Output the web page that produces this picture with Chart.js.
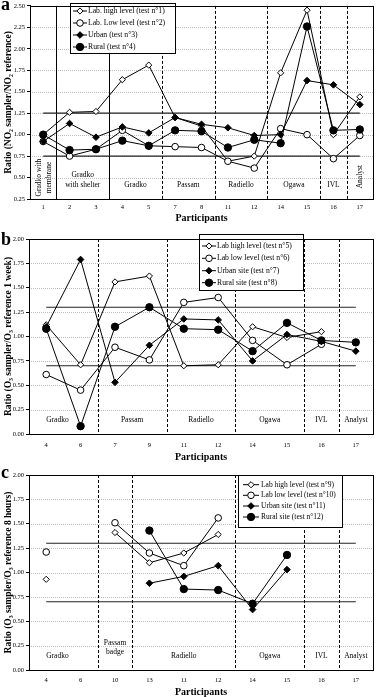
<!DOCTYPE html>
<html>
<head>
<meta charset="utf-8">
<script src="https://cdn.jsdelivr.net/npm/chart.js@4.4.0/dist/chart.umd.min.js"></script>
<style>
    html, body { margin: 0; padding: 0; background: #fff; width: 378px; height: 697px; overflow: hidden; }
    canvas { position: absolute; left: 0; }
    .letter { position: absolute; left: 1px; font: bold 18px "Liberation Serif", serif; line-height: 18px; z-index: 2; }
</style>
</head>
<body>
<canvas id="chartA" width="378" height="225" style="top:0"></canvas>
<canvas id="chartB" width="378" height="232" style="top:232px"></canvas>
<canvas id="chartC" width="378" height="233" style="top:466px"></canvas>
<div class="letter" style="top:-5px">a</div>
<div class="letter" style="top:230px">b</div>
<div class="letter" style="top:463px">c</div>
<script>
// panel a : NO2
const participantsA = ["1", "2", "3", "4", "5", "7", "8", "11", "12", "14", "15", "16", "17"];
const labHighA = [1.00, 1.26, 1.27, 1.64, 1.81, 1.20, 1.10, 0.69, 0.75, 1.72, 2.45, 1.00, 1.44];
const labLowA = [0.92, 0.75, 0.83, 1.05, 0.87, 0.86, 0.85, 0.69, 0.61, 1.07, 1.00, 0.72, 0.99];
const urbanA = [0.92, 1.13, 0.97, 1.09, 1.02, 1.20, 1.12, 1.08, 0.99, 1.00, 1.63, 1.58, 1.35];
const ruralA = [1.00, 0.82, 0.83, 0.93, 0.87, 1.05, 1.04, 0.85, 0.94, 0.90, 2.26, 1.05, 1.06];
const legendA = ["Lab. high level (test n°1)", "Lab. Low level (test n°2)", "Urban (test n°3)", "Rural (test n°4)"];
const limitsA = [1.25, 0.75];
const groupsA = [["Gradko with", "membrane"], ["Gradko", "with shelter"], ["Gradko"], ["Passam"], ["Radiello"], ["Ogawa"], ["IVL"], ["Analyst"]];

// panel b : O3, 1 week
const participantsB = ["4", "6", "7", "9", "11", "12", "14", "15", "16", "17"];
const labHighB = [1.12, 0.71, 1.56, 1.62, 0.70, 0.71, 1.10, 0.99, 1.05, null];
const labLowB = [0.61, 0.45, 0.89, 0.76, 1.35, 1.40, 0.96, 0.71, 0.92, null];
const urbanB = [1.10, 1.79, 0.53, 0.91, 1.18, 1.17, 0.75, 1.02, 0.95, 0.85];
const ruralB = [1.08, 0.08, 1.10, 1.30, 1.08, 1.07, 0.85, 1.14, 0.96, 0.94];
const legendB = ["Lab high level (test n°5)", "Lab low level (test n°6)", "Urban site (test n°7)", "Rural site (test n°8)"];
const limitsB = [1.30, 0.70];
const groupsB = [["Gradko"], ["Passam"], ["Radiello"], ["Ogawa"], ["IVL"], ["Analyst"]];

// panel c : O3, 8 hours
const participantsC = ["4", "6", "10", "13", "11", "12", "14", "15", "16", "17"];
const labHighC = [0.93, null, 1.41, 1.10, 1.20, 1.39, null, null, null, null];
const labLowC = [1.21, null, 1.51, 1.20, 1.07, 1.56, null, null, null, null];
const urbanC = [null, null, null, 0.89, 0.96, 1.07, 0.62, 1.03, null, null];
const ruralC = [null, null, null, 1.43, 0.83, 0.82, 0.68, 1.18, null, null];
const legendC = ["Lab high level (test n°9)", "Lab low level (test n°10)", "Urban site (test n°11)", "Rural site (test n°12)"];
const limitsC = [1.30, 0.70];
const groupsC = [["Gradko"], ["Passam", "badge"], ["Radiello"], ["Ogawa"], ["IVL"], ["Analyst"]];

const FONT = "\"Liberation Serif\", serif";
Chart.defaults.font.family = FONT;
Chart.defaults.color = "#000";

// marker look of the 4 series: open diamond, open circle, black diamond, black circle
const markers = [
    { style: "rectRot", radius: 3.1, fill: "#fff" },
    { style: "circle", radius: 3.3, fill: "#fff" },
    { style: "rectRot", radius: 3.3, fill: "#000" },
    { style: "circle", radius: 3.7, fill: "#000" }
];

function drawMarker(ctx, m, x, y) {
    ctx.beginPath();
    if (m.style === "circle") {
        ctx.arc(x, y, m.radius, 0, Math.PI * 2);
    } else {
        ctx.moveTo(x, y - m.radius);
        ctx.lineTo(x + m.radius, y);
        ctx.lineTo(x, y + m.radius);
        ctx.lineTo(x - m.radius, y);
        ctx.closePath();
    }
    ctx.fillStyle = m.fill;
    ctx.fill();
    ctx.strokeStyle = "#000";
    ctx.lineWidth = 1;
    ctx.stroke();
}

function decor(cfg) {
    return {
        id: "decor",
        beforeDatasetsDraw(chart) {
            const ctx = chart.ctx;
            const area = chart.chartArea;
            const xs = chart.scales.x;
            const ys = chart.scales.y;
            ctx.save();
            // dotted grid
            ctx.strokeStyle = "#bdbdbd";
            ctx.lineWidth = 1;
            ctx.setLineDash([1, 1]);
            ys.ticks.forEach(t => {
                const py = Math.round(ys.getPixelForValue(t.value)) + 0.5;
                if (py > area.top + 1 && py < area.bottom - 1) {
                    ctx.beginPath();
                    ctx.moveTo(area.left, py);
                    ctx.lineTo(area.right, py);
                    ctx.stroke();
                }
            });
            // group separators
            ctx.strokeStyle = "#000";
            cfg.separators.forEach(s => {
                const px = Math.round((xs.getPixelForValue(s.after) + xs.getPixelForValue(s.after + 1)) / 2) + 0.5;
                ctx.setLineDash(s.dashed ? [3, 2] : []);
                ctx.beginPath();
                ctx.moveTo(px, area.top);
                ctx.lineTo(px, area.bottom);
                ctx.stroke();
            });
            ctx.setLineDash([]);
            // group names
            ctx.fillStyle = "#000";
            ctx.font = "7.5px " + FONT;
            ctx.textAlign = "center";
            ctx.textBaseline = "middle";
            cfg.groups.forEach((g, i) => {
                const p = cfg.groupPos[i];
                const px = (xs.getPixelForValue(p.from) + xs.getPixelForValue(p.to)) / 2 + (p.dx || 0);
                const py = ys.getPixelForValue(p.at);
                ctx.save();
                ctx.translate(px, py);
                if (p.vertical) ctx.rotate(-Math.PI / 2);
                g.forEach((line, k) => ctx.fillText(line, 0, (k - (g.length - 1) / 2) * 9.5));
                ctx.restore();
            });
            ctx.restore();
        },
        afterDatasetsDraw(chart) {
            const ctx = chart.ctx;
            const area = chart.chartArea;
            const lg = cfg.legend;
            ctx.save();
            // legend box
            ctx.fillStyle = "#fff";
            ctx.fillRect(lg.x, lg.y, lg.w, lg.h);
            ctx.strokeStyle = "#000";
            ctx.lineWidth = 1;
            ctx.strokeRect(lg.x + 0.5, lg.y + 0.5, lg.w, lg.h);
            ctx.font = lg.font + "px " + FONT;
            ctx.textAlign = "left";
            ctx.textBaseline = "middle";
            cfg.labels.forEach((label, i) => {
                const ly = lg.rows[i];
                ctx.beginPath();
                ctx.moveTo(lg.lineFrom, ly);
                ctx.lineTo(lg.lineTo, ly);
                ctx.stroke();
                drawMarker(ctx, markers[i], (lg.lineFrom + lg.lineTo) / 2, ly);
                ctx.fillStyle = "#000";
                ctx.fillText(label, lg.textX, ly);
            });
            // plot frame
            ctx.strokeStyle = "#000";
            ctx.strokeRect(Math.round(area.left) + 0.5, Math.round(area.top) + 0.5,
                Math.round(area.right - area.left), Math.round(area.bottom - area.top));
            ctx.restore();
        }
    };
}

function buildChart(id, cfg) {
    const datasets = cfg.series.map((values, i) => ({
        data: values,
        borderColor: "#000",
        borderWidth: 1,
        pointStyle: markers[i].style,
        pointRadius: markers[i].radius,
        pointBackgroundColor: markers[i].fill,
        pointBorderColor: "#000",
        pointBorderWidth: 1,
        order: 3 - i
    }));
    cfg.limits.forEach(v => {
        datasets.push({
            data: cfg.categories.map(() => v),
            borderColor: "#222",
            borderWidth: 1.2,
            pointRadius: 0,
            order: 10
        });
    });

    return new Chart(document.getElementById(id), {
        type: "line",
        data: { labels: cfg.categories, datasets: datasets },
        options: {
            responsive: false,
            animation: false,
            events: [],
            layout: { padding: { top: cfg.padTop, right: cfg.padRight, left: 0, bottom: 0 } },
            plugins: { legend: { display: false }, tooltip: { enabled: false } },
            scales: {
                x: {
                    type: "category",
                    offset: true,
                    grid: { display: false, drawTicks: false },
                    border: { display: true, color: "#000" },
                    ticks: { autoSkip: false, maxRotation: 0, padding: cfg.xTickPad, font: { size: 6.5 } },
                    title: { display: true, text: "Participants", padding: { top: 0, bottom: 1 }, font: { size: 10, weight: "bold" } },
                    afterFit: scale => { scale.height = cfg.xHeight; }
                },
                y: {
                    min: cfg.yMin,
                    max: cfg.yMax,
                    grid: { drawOnChartArea: false, drawTicks: true, tickLength: 3, color: "#000" },
                    border: { display: true, color: "#000" },
                    ticks: { stepSize: 0.25, padding: 2, font: { size: 6.5 }, callback: v => v.toFixed(2) },
                    title: { display: true, text: cfg.yTitle, padding: { top: 3, bottom: 0 }, font: { size: 9.5, weight: "bold" } },
                    afterFit: scale => { scale.width = cfg.yWidth; }
                }
            }
        },
        plugins: [decor(cfg)]
    });
}

document.addEventListener("DOMContentLoaded", function () {
    buildChart("chartA", {
        categories: participantsA,
        series: [labHighA, labLowA, urbanA, ruralA],
        labels: legendA,
        limits: limitsA,
        yMin: 0.25, yMax: 2.5,
        yTitle: "Ratio (NO\u2082 sampler/NO\u2082 reference)",
        padTop: 3, padRight: 3, yWidth: 30, xHeight: 26, xTickPad: 4,
        separators: [
            { after: 0, dashed: false }, { after: 2, dashed: false },
            { after: 4, dashed: true }, { after: 6, dashed: true }, { after: 8, dashed: true },
            { after: 10, dashed: true }, { after: 11, dashed: true }
        ],
        groups: groupsA,
        groupPos: [
            { from: 0, to: 0, at: 0.50, vertical: true, dx: 1 },
            { from: 1, to: 2, at: 0.47 },
            { from: 3, to: 4, at: 0.41 },
            { from: 5, to: 6, at: 0.41 },
            { from: 7, to: 8, at: 0.41 },
            { from: 9, to: 10, at: 0.41 },
            { from: 11, to: 11, at: 0.41 },
            { from: 12, to: 12, at: 0.51, vertical: true }
        ],
        legend: { x: 70, y: 3, w: 105, h: 50, rows: [11, 23, 35, 47], lineFrom: 73, lineTo: 87, textX: 88, font: 7.7 }
    });

    buildChart("chartB", {
        categories: participantsB,
        series: [labHighB, labLowB, urbanB, ruralB],
        labels: legendB,
        limits: limitsB,
        yMin: 0, yMax: 2,
        yTitle: "Ratio (O\u2083 sampler/O\u2083 reference 1 week)",
        padTop: 7, padRight: 2, yWidth: 29, xHeight: 30, xTickPad: 7,
        separators: [
            { after: 1, dashed: true }, { after: 3, dashed: true }, { after: 5, dashed: true },
            { after: 7, dashed: true }, { after: 8, dashed: true }
        ],
        groups: groupsB,
        groupPos: [
            { from: 0, to: 1, at: 0.14, dx: -6 },
            { from: 2, to: 3, at: 0.14 },
            { from: 4, to: 5, at: 0.14 },
            { from: 6, to: 7, at: 0.14 },
            { from: 8, to: 8, at: 0.14 },
            { from: 9, to: 9, at: 0.14 }
        ],
        legend: { x: 199, y: 2, w: 104, h: 56, rows: [14, 26.3, 38.7, 50.7], lineFrom: 202, lineTo: 216, textX: 217, font: 7.7 }
    });

    buildChart("chartC", {
        categories: participantsC,
        series: [labHighC, labLowC, urbanC, ruralC],
        labels: legendC,
        limits: limitsC,
        yMin: 0, yMax: 2,
        yTitle: "Ratio (O\u2083 sampler/O\u2083 reference 8 hours)",
        padTop: 9, padRight: 2, yWidth: 29, xHeight: 29, xTickPad: 6,
        separators: [
            { after: 1, dashed: true }, { after: 2, dashed: true }, { after: 5, dashed: true },
            { after: 7, dashed: true }, { after: 8, dashed: true }
        ],
        groups: groupsC,
        groupPos: [
            { from: 0, to: 1, at: 0.14, dx: -6 },
            { from: 2, to: 2, at: 0.23 },
            { from: 3, to: 5, at: 0.14 },
            { from: 6, to: 7, at: 0.14 },
            { from: 8, to: 8, at: 0.14 },
            { from: 9, to: 9, at: 0.14 }
        ],
        legend: { x: 238, y: 9, w: 104, h: 52, rows: [18.7, 29.3, 40, 51], lineFrom: 243, lineTo: 259, textX: 261, font: 7.5 }
    });
});
</script>
</body>
</html>
